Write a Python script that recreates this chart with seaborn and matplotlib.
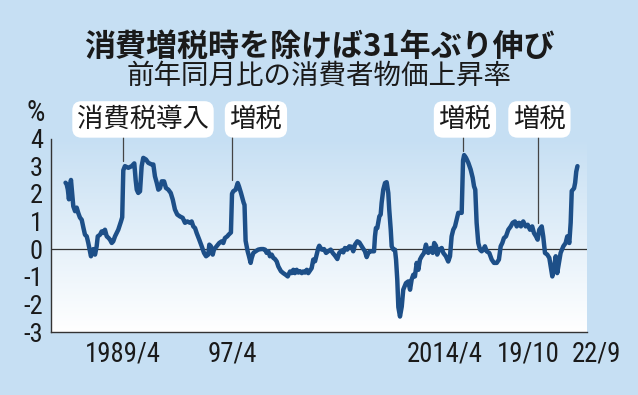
import numpy as np
import pandas as pd
import matplotlib
matplotlib.use("Agg")
import matplotlib.pyplot as plt
import matplotlib.transforms as mtransforms
import seaborn as sns
from matplotlib import font_manager
from matplotlib.font_manager import FontProperties
from matplotlib.colors import LinearSegmentedColormap

# ---------------- data ----------------
dates = [
    1985.0, 1985.08, 1985.17, 1985.25, 1985.33, 1985.4, 1985.57, 1985.7, 1985.82, 1985.94,
    1986.06, 1986.19, 1986.31, 1986.43, 1986.56, 1986.67, 1986.8, 1986.87, 1987.04, 1987.17,
    1987.29, 1987.37, 1987.54, 1987.66, 1987.78, 1987.9, 1988.03, 1988.15, 1988.27, 1988.4,
    1988.51, 1988.64, 1988.76, 1988.88, 1989.0, 1989.08, 1989.17, 1989.25, 1989.37, 1989.62,
    1989.87, 1990.06, 1990.16, 1990.24, 1990.35, 1990.48, 1990.6, 1990.72, 1990.92, 1991.09,
    1991.34, 1991.46, 1991.58, 1991.71, 1991.83, 1991.95, 1992.08, 1992.25, 1992.39, 1992.56,
    1992.74, 1992.89, 1993.05, 1993.22, 1993.42, 1993.62, 1993.79, 1993.96, 1994.16, 1994.28,
    1994.4, 1994.53, 1994.65, 1994.84, 1995.02, 1995.19, 1995.34, 1995.5, 1995.58, 1995.7,
    1995.83, 1995.92, 1996.12, 1996.31, 1996.49, 1996.61, 1996.73, 1996.9, 1997.0, 1997.17,
    1997.25, 1997.34, 1997.52, 1997.67, 1997.76, 1997.91, 1998.01, 1998.11, 1998.17, 1998.25,
    1998.4, 1998.5, 1998.62, 1998.7, 1998.82, 1998.99, 1999.18, 1999.38, 1999.55, 1999.68,
    1999.8, 1999.92, 2000.04, 2000.17, 2000.29, 2000.41, 2000.54, 2000.66, 2000.85, 2001.02,
    2001.2, 2001.35, 2001.52, 2001.64, 2001.76, 2001.88, 2002.01, 2002.13, 2002.25, 2002.38,
    2002.49, 2002.62, 2002.75, 2002.86, 2002.99, 2003.11, 2003.23, 2003.36, 2003.48, 2003.6,
    2003.67, 2003.85, 2004.02, 2004.17, 2004.33, 2004.51, 2004.66, 2004.83, 2005.0, 2005.14,
    2005.32, 2005.44, 2005.56, 2005.73, 2005.88, 2006.06, 2006.17, 2006.3, 2006.47, 2006.62,
    2006.72, 2006.87, 2007.03, 2007.16, 2007.28, 2007.4, 2007.6, 2007.7, 2007.77, 2007.84,
    2007.94, 2008.01, 2008.09, 2008.19, 2008.26, 2008.38, 2008.51, 2008.63, 2008.75, 2008.82,
    2008.93, 2009.0, 2009.12, 2009.24, 2009.32, 2009.41, 2009.49, 2009.61, 2009.74, 2009.85,
    2010.05, 2010.22, 2010.35, 2010.47, 2010.59, 2010.71, 2010.84, 2010.96, 2011.08, 2011.21,
    2011.38, 2011.52, 2011.69, 2011.87, 2012.02, 2012.13, 2012.26, 2012.35, 2012.5, 2012.68,
    2012.8, 2012.99, 2013.16, 2013.29, 2013.41, 2013.53, 2013.66, 2013.78, 2013.9, 2014.15,
    2014.25, 2014.33, 2014.47, 2014.64, 2014.81, 2014.96, 2015.06, 2015.15, 2015.25, 2015.37,
    2015.5, 2015.62, 2015.74, 2015.86, 2015.99, 2016.18, 2016.36, 2016.53, 2016.73, 2016.89,
    2017.02, 2017.14, 2017.26, 2017.41, 2017.58, 2017.76, 2017.9, 2018.07, 2018.2, 2018.37,
    2018.51, 2018.68, 2018.86, 2019.01, 2019.18, 2019.34, 2019.47, 2019.62, 2019.74, 2019.86,
    2020.04, 2020.15, 2020.28, 2020.45, 2020.6, 2020.7, 2020.82, 2020.94, 2021.07, 2021.18,
    2021.31, 2021.43, 2021.63, 2021.8, 2021.92, 2022.07, 2022.17, 2022.25, 2022.33, 2022.42,
    2022.5, 2022.58, 2022.67,
]
cpi = [
    2.4, 2.35, 2.15, 1.8, 2.3, 2.5, 1.55, 1.37, 1.5, 1.3,
    1.14, 1.06, 0.78, 0.52, 0.46, 0.23, -0.08, -0.26, 0.0, -0.2,
    0.1, 0.46, 0.52, 0.64, 0.58, 0.7, 0.46, 0.41, 0.34, 0.22,
    0.28, 0.46, 0.58, 0.7, 0.88, 1.0, 1.15, 2.85, 3.0, 2.94,
    3.0, 3.1, 2.5, 2.15, 2.03, 2.09, 3.0, 3.3, 3.24, 3.12,
    3.06, 3.06, 2.63, 2.4, 2.15, 2.2, 2.45, 2.45, 2.21, 2.15,
    2.03, 1.79, 1.43, 1.25, 1.18, 1.13, 0.95, 1.0, 0.95, 1.0,
    0.82, 0.76, 0.58, 0.34, 0.1, -0.14, -0.26, -0.2, 0.16, 0.1,
    -0.2, -0.02, 0.1, 0.22, 0.28, 0.22, 0.4, 0.46, 0.52, 0.6,
    2.0, 2.09, 2.15, 2.39, 2.27, 2.03, 1.85, 1.67, 1.6, 0.3,
    -0.08, -0.26, -0.5, -0.32, -0.14, -0.08, -0.02, 0.0, 0.0, -0.02,
    -0.14, -0.08, -0.26, -0.2, -0.32, -0.36, -0.45, -0.63, -0.8, -0.87,
    -0.93, -0.99, -0.81, -0.87, -0.75, -0.87, -0.75, -0.85, -0.8, -0.87,
    -0.81, -0.85, -0.75, -0.87, -0.78, -0.69, -0.38, -0.44, -0.2, 0.04,
    0.12, -0.02, 0.0, -0.14, -0.08, -0.02, -0.14, -0.24, -0.36, -0.14,
    -0.05, -0.12, 0.04, -0.02, 0.1, 0.08, -0.08, 0.16, 0.28, 0.24,
    0.16, 0.04, -0.08, -0.29, -0.14, -0.08, -0.08, -0.08, 0.46, 0.76,
    0.76, 0.95, 1.18, 1.25, 1.67, 2.15, 2.39, 2.42, 2.03, 1.43,
    0.7, 0.1, -0.02, -0.02, -0.38, -1.1, -2.1, -2.44, -2.08, -1.47,
    -1.23, -1.17, -1.47, -1.1, -0.93, -0.99, -0.5, -0.75, -0.38, -0.26,
    -0.14, 0.16, -0.14, 0.04, -0.14, 0.22, 0.12, -0.2, -0.02, 0.04,
    -0.14, -0.26, -0.45, -0.26, 0.46, 0.7, 0.82, 1.07, 1.31, 1.31,
    3.2, 3.4, 3.3, 3.12, 2.88, 2.58, 2.27, 2.15, 0.95, 0.22,
    -0.02, -0.08, -0.02, 0.1, -0.08, -0.14, -0.38, -0.5, -0.5, -0.38,
    0.1, 0.22, 0.4, 0.46, 0.7, 0.82, 0.95, 1.0, 0.82, 0.95,
    0.82, 1.0, 0.82, 0.88, 0.7, 0.82, 0.58, 0.46, 0.34, 0.7,
    0.82, 0.46, -0.14, -0.2, -0.32, -0.63, -0.99, -0.69, -0.26, -0.87,
    -0.5, -0.14, 0.1, 0.22, 0.46, 0.22, 0.95, 2.1, 2.15, 2.2,
    2.4, 2.8, 3.0,
]
x_tick_pos = [1989.25, 1997.25, 2014.25, 2019.75, 2022.667]
x_tick_labels = ["1989/4", "97/4", "2014/4", "19/10", "22/9"]
y_ticks = [-3, -2, -1, 0, 1, 2, 3, 4]
event_dates = [1989.25, 1997.25, 2014.25, 2019.75]
event_labels = ["消費税導入", "増税", "増税", "増税"]
title = "消費増税時を除けば31年ぶり伸び"
subtitle = "前年同月比の消費者物価上昇率"
unit = "%"

df = pd.DataFrame({"date": dates, "cpi": cpi})

# ---------------- fonts ----------------
sns.set_style("white")
CJK = ["Noto Sans CJK JP", "DejaVu Sans"]
plt.rcParams["font.family"] = CJK


def pick_condensed():
    prefs = ["Liberation Sans Narrow", "Roboto Condensed", "Open Sans Condensed",
             "DejaVu Sans Condensed", "Noto Sans Condensed", "Arial Narrow"]
    cands = []
    for f in font_manager.fontManager.ttflist:
        if f.style != "normal":
            continue
        w = f.weight if isinstance(f.weight, int) else 400
        if not (350 <= w <= 450):
            continue
        st = str(f.stretch)
        narrowish = ("Narrow" in f.name or "Condensed" in f.name or
                     st in ("condensed", "semi-condensed", "extra-condensed") or
                     (st.isdigit() and int(st) < 500) or
                     "Condensed" in f.fname or "Narrow" in f.fname)
        if not narrowish:
            continue
        key = f.name
        if "Condensed" in f.fname and "Condensed" not in key:
            key = key + " Condensed"
        rank = prefs.index(key) if key in prefs else len(prefs)
        if "Semi" in f.fname or "Extra" in f.fname or "Bold" in f.fname or "Light" in f.fname:
            rank += 20
        cands.append((rank, f.fname))
    if cands:
        cands.sort()
        return FontProperties(fname=cands[0][1]), True
    return FontProperties(family=["Liberation Sans", "DejaVu Sans"]), False


NARROW_FP, HAS_NARROW = pick_condensed()
XT_SIZE = 19.3 if HAS_NARROW else 15.5
YT_SIZE = 19.0 if HAS_NARROW else 16
UNIT_SIZE = 21 if HAS_NARROW else 17

# ---------------- figure ----------------
BG = "#c6dff3"
LINE = "#1d4f88"
DARK = "#333333"
TXT = "#1a1a1a"

fig = plt.figure(figsize=(6.38, 3.95), dpi=100, facecolor=BG)
ax = fig.add_axes([51 / 638, 1 - 332 / 395, (586.7 - 51) / 638, (332 - 138.5) / 395])
ax.set_facecolor("none")

grad = np.linspace(0, 1, 256).reshape(-1, 1)
cmap = LinearSegmentedColormap.from_list("g", [BG, "#ffffff"])
ax.imshow(grad, extent=[0, 1, 0, 1], transform=ax.transAxes, cmap=cmap,
          aspect="auto", zorder=0, interpolation="bilinear")

ax.axhline(0, color=DARK, lw=0.9, zorder=2)
sns.lineplot(data=df, x="date", y="cpi", ax=ax, color=LINE, linewidth=3.2,
             zorder=3, solid_joinstyle="round", solid_capstyle="round")

ax.set_xlim(1983.93, 2023.35)
ax.set_ylim(-3, 4)
ax.set_xlabel("")
ax.set_ylabel("")

for s in ["top", "right"]:
    ax.spines[s].set_visible(False)
for s in ["left", "bottom"]:
    ax.spines[s].set_color(DARK)
    ax.spines[s].set_linewidth(1.0)

ax.set_yticks(y_ticks)
ax.set_yticklabels([str(v) for v in y_ticks])
ax.set_xticks(x_tick_pos)
ax.set_xticklabels(x_tick_labels)
ax.tick_params(axis="y", direction="in", length=9.4, width=0.9, color=DARK,
               pad=5.8, labelcolor=TXT)
ax.tick_params(axis="x", direction="in", length=5, width=0.9, color=DARK,
               pad=6.0, labelcolor=TXT)

# crowded labels at the right are nudged sideways, as in the original
label_shift_px = [0, 0, -18, -9, 19]
for lab, dx in zip(ax.get_xticklabels(), label_shift_px):
    lab.set_fontproperties(NARROW_FP)
    lab.set_fontsize(XT_SIZE)
    lab.set_transform(lab.get_transform() +
                      mtransforms.ScaledTranslation(dx / 100, 0, fig.dpi_scale_trans))
for lab in ax.get_yticklabels():
    lab.set_fontproperties(NARROW_FP)
    lab.set_fontsize(YT_SIZE)

# event labels and leader lines
label_x = [1990.7, 1999.01, 2014.39, 2019.87]
leader_end = [3.17, 2.51, 3.53, 0.96]
for d, lab, lx, le in zip(event_dates, event_labels, label_x, leader_end):
    ax.plot([d, d], [4.07, le], color="#444444", lw=0.9, clip_on=False, zorder=2)
    ax.text(lx, 4.69, lab, ha="center", va="center", fontsize=19, family=CJK,
            color=TXT, clip_on=False, zorder=5,
            bbox=dict(boxstyle="round,pad=0.18,rounding_size=0.35", fc="white", ec="none"))

ufp = NARROW_FP.copy()
ufp.set_size(UNIT_SIZE)
fig.text(36 / 638, 1 - 113 / 395, unit, ha="center", va="center",
         fontproperties=ufp, color=TXT)
fig.text(0.5, 1 - 47 / 395, title, ha="center", va="center", fontsize=22.3,
         fontweight="bold", family=CJK, color=TXT)
fig.text(0.5, 1 - 76 / 395, subtitle, ha="center", va="center", fontsize=19.8,
         family=CJK, color=TXT)

fig.savefig("out.png", dpi=100, facecolor=BG)
